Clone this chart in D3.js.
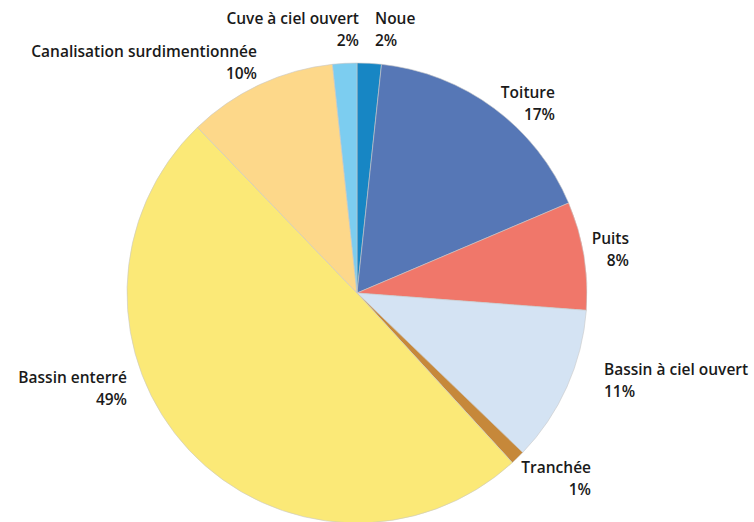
<!DOCTYPE html>
<html>
<head>
<meta charset="utf-8">
<script src="https://cdn.jsdelivr.net/npm/d3@7"></script>
<style>
  body { margin: 0; background: #fff; }
  text { font-family: "Open Sans", sans-serif; font-weight: 600; font-size: 15.5px; fill: #1a1a1a; }
</style>
</head>
<body>
<div id="chart-area"></div>
<script>
// data, clockwise from 12 o'clock
var categories = ['Noue', 'Toiture', 'Puits', 'Bassin à ciel ouvert', 'Tranchée', 'Bassin enterré', 'Canalisation surdimentionnée', 'Cuve à ciel ouvert'];
var values = [1.7, 16.9, 7.6, 11.0, 1.0, 49.6, 10.5, 1.7];
var pctLabels = ['2%', '17%', '8%', '11%', '1%', '49%', '10%', '2%'];
var colors = ['#1786c4', '#5677b6', '#f0776a', '#d4e3f3', '#c6883a', '#fbe977', '#fdd88a', '#7ccdf0'];

// label layout: [x, y of first baseline, anchor]
var labelLayout = [
  [375, 24, 'start'],
  [555, 98, 'end'],
  [629, 244, 'end'],
  [604, 375, 'start'],
  [591, 473, 'end'],
  [127, 383, 'end'],
  [257, 57, 'end'],
  [359, 24, 'end']
];

var width = 754, height = 522;
var cx = 357, cy = 293, radius = 230;

var svg = d3.select('#chart-area')
  .append('svg')
    .attr('width', width)
    .attr('height', height);

var pie = d3.pie().sort(null).value(function(d){ return d; });
var arc = d3.arc().innerRadius(0).outerRadius(radius);

var g = svg.append('g')
  .attr('transform', 'translate(' + cx + ',' + cy + ')');

g.selectAll('path')
  .data(pie(values))
  .enter().append('path')
    .attr('d', arc)
    .attr('fill', function(d, i){ return colors[i]; })
    .attr('stroke', '#c8c8c8')
    .attr('stroke-width', 0.6);

// labels
categories.forEach(function(cat, i){
  var pos = labelLayout[i];
  var t = svg.append('text')
    .attr('x', pos[0])
    .attr('y', pos[1])
    .attr('text-anchor', pos[2]);
  t.append('tspan').attr('x', pos[0]).text(cat);
  t.append('tspan').attr('x', pos[0]).attr('dy', 22).text(pctLabels[i]);
});
</script>
</body>
</html>
